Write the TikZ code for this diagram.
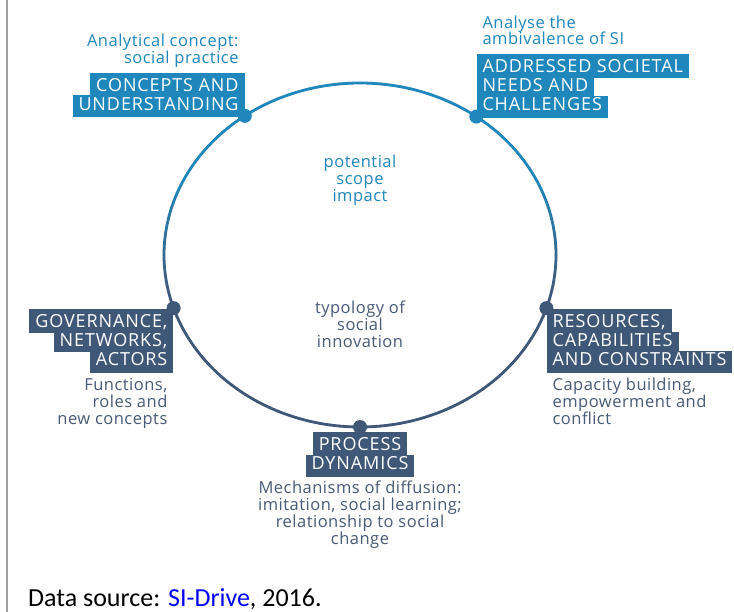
\documentclass[tikz,border=0pt]{standalone}
\usepackage{fontspec}
\newfontfamily\tagfont[LetterSpace=5]{Open Sans}
\newfontfamily\notefont[LetterSpace=3]{Open Sans}
\newfontfamily\footfont{Carlito}
\definecolor{siblue}{RGB}{31,135,188}
\definecolor{sislate}{RGB}{64,88,120}
\definecolor{notegray}{RGB}{72,90,118}
\definecolor{linkblue}{RGB}{0,0,255}

\begin{document}
\begin{tikzpicture}[x=1bp,y=-1bp,
  tagbox/.style={fill=#1, text=white, font=\tagfont\fontsize{18bp}{19bp}\selectfont,
    inner xsep=6bp, inner ysep=2.5bp, text height=12.5bp, text depth=2.5bp},
  tagtop/.style={text height=16bp},
  tagend/.style={text depth=4.5bp},
  note/.style={text=#1, font=\notefont\fontsize{16.5bp}{16.8bp}\selectfont, inner sep=0pt},
  joint/.style={circle, fill=#1, inner sep=0pt, minimum size=14bp},
]
\useasboundingbox (0,0) rectangle (734,612);
\fill[white] (0,0) rectangle (734,612);
\draw[gray!75, line width=2bp] (7,0) -- (7,612);

% ring, fading from blue (top) to slate (bottom)
\foreach \a in {0,3,...,357} {
  \pgfmathtruncatemacro\p{max(0,min(100,(0.26-sin(\a+1.5))/0.7*100))}
  \draw[line width=2.8bp, color=siblue!\p!sislate, line cap=round]
    ({360+196*cos(\a)},{255+172*sin(\a)}) arc[start angle=\a, end angle=\a+3, x radius=196, y radius=172];
}

% joints on the ring
\node[joint=siblue]  (dCU) at ({360+196*cos(234)},{255+172*sin(234)}) {};
\node[joint=siblue]  (dAD) at ({360+196*cos(306.4)},{255+172*sin(306.4)}) {};
\node[joint=sislate] (dGN) at ({360+196*cos(162)},{255+172*sin(162)}) {};
\node[joint=sislate] (dRC) at ({360+196*cos(18)},{255+172*sin(18)}) {};
\node[joint=sislate] (dPD) at (360,427) {};

% centre texts (base = last line)
\node[note=siblue, align=center, anchor=base] (scope) at (360,201.5) {potential\\scope\\impact};
\node[note=notegray, align=center, anchor=base] (typo) at (360,347.5) {typology of\\social\\innovation};

% concepts and understanding
\node[tagbox=siblue, tagend, anchor=south east] (cu2) at ([yshift=-1.5bp]dCU.center) {UNDERSTANDING};
\node[tagbox=siblue, tagtop, anchor=base east] (cu1) at ([yshift=18.5bp]cu2.base east) {CONCEPTS AND};
\node[note=siblue, align=right, anchor=base east] (cuN) at ([xshift=-6bp,yshift=28bp]cu1.base east) {Analytical concept:\\social practice};

% addressed societal needs and challenges
\node[tagbox=siblue, tagend, anchor=south west] (ad3) at ([yshift=-1.5bp]dAD.center) {CHALLENGES};
\node[tagbox=siblue, anchor=base west] (ad2) at ([yshift=19bp]ad3.base west) {NEEDS AND};
\node[tagbox=siblue, tagtop, anchor=base west] (ad1) at ([yshift=19bp]ad2.base west) {ADDRESSED SOCIETAL};
\node[note=siblue, align=left, anchor=base west] (adN) at ([xshift=6bp,yshift=28bp]ad1.base west) {Analyse the\\ambivalence of SI};

% governance, networks, actors
\node[tagbox=sislate, tagtop, anchor=north east] (gn1) at ([yshift=-1bp]dGN.center) {GOVERNANCE,};
\node[tagbox=sislate, anchor=base east] (gn2) at ([yshift=-19bp]gn1.base east) {NETWORKS,};
\node[tagbox=sislate, tagend, anchor=base east] (gn3) at ([yshift=-19bp]gn2.base east) {ACTORS};
\node[note=notegray, align=right, anchor=base east] (gnN) at ([xshift=-6bp,yshift=-58.6bp]gn3.base east) {Functions,\\roles and\\new concepts};

% resources, capabilities and constraints
\node[tagbox=sislate, tagtop, anchor=north west] (rc1) at ([yshift=-1bp]dRC.center) {RESOURCES,};
\node[tagbox=sislate, anchor=base west] (rc2) at ([yshift=-19bp]rc1.base west) {CAPABILITIES};
\node[tagbox=sislate, tagend, anchor=base west] (rc3) at ([yshift=-19bp]rc2.base west) {AND CONSTRAINTS};
\node[note=notegray, align=left, anchor=base west] (rcN) at ([xshift=6bp,yshift=-58.6bp]rc3.base west) {Capacity building,\\empowerment and\\conflict};

% process dynamics
\node[tagbox=sislate, tagtop, anchor=north] (pd1) at ([yshift=-5bp]dPD.center) {PROCESS};
\node[tagbox=sislate, tagend, anchor=base] (pd2) at ([yshift=-19bp]pd1.base) {DYNAMICS};
\node[note=notegray, align=center, anchor=base] (pdN) at ([yshift=-74.4bp]pd2.base) {Mechanisms of diffusion:\\imitation, social learning;\\relationship to social\\change};

% source line
\node[anchor=base west, inner sep=0pt, font=\footfont\fontsize{26bp}{28bp}\selectfont] (src) at (28,606)
  {Data source: \textcolor{linkblue}{SI-Drive}, 2016.};
\end{tikzpicture}
\end{document}
